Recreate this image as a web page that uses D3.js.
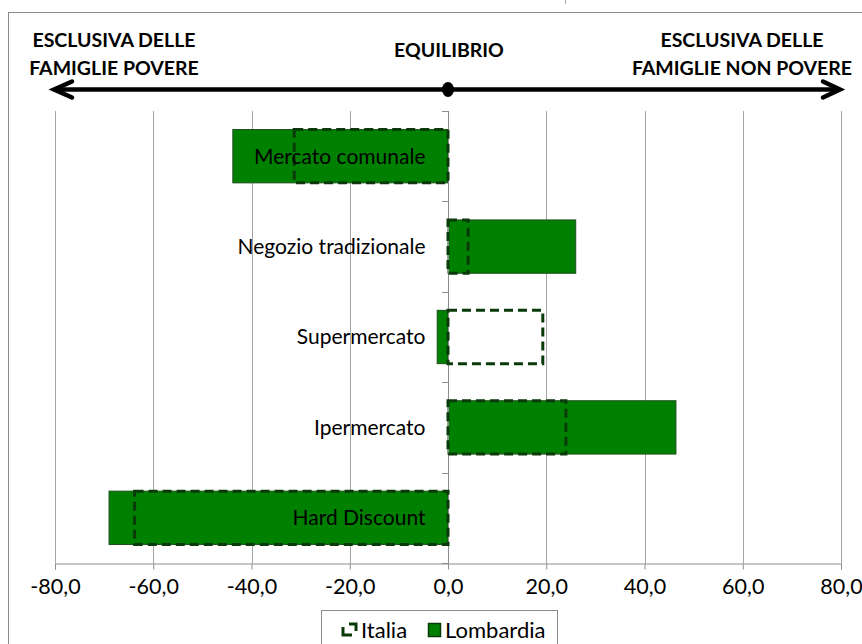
<!DOCTYPE html>
<html><head><meta charset="utf-8">
<script src="https://cdn.jsdelivr.net/npm/d3@7"></script>
<style>
html,body{margin:0;padding:0;background:#fff;}
svg{display:block;font-family:Lato, "Open Sans", sans-serif;}
</style></head>
<body>
<svg id="chart" width="862" height="644"></svg>
<script>
const categories = ["Mercato comunale","Negozio tradizionale","Supermercato","Ipermercato","Hard Discount"];
const italia = [-31.3, 4.1, 19.3, 24.0, -63.8];
const lombardia = [-43.8, 26.0, -2.2, 46.4, -69.0];
const xTicks = [-80,-60,-40,-20,0,20,40,60,80];
const seriesNames = ["Italia","Lombardia"];
const headerLeft = ["ESCLUSIVA DELLE","FAMIGLIE POVERE"];
const headerCenter = "EQUILIBRIO";
const headerRight = ["ESCLUSIVA DELLE","FAMIGLIE NON POVERE"];

const svg = d3.select("#chart");
const L=55, R=841, T=111, B=563;
const x = d3.scaleLinear().domain([-80,80]).range([L,R]);
const y = d3.scaleBand().domain(categories).range([T,B]).paddingInner(0.41).paddingOuter(0.205);
const fmt = v => d3.format(".1f")(v).replace(".",",").replace("−","-");

// outer border
svg.append("rect").attr("x",8.5).attr("y",12.5).attr("width",880).attr("height",660)
  .attr("fill","none").attr("stroke","#8c8c8c").attr("stroke-width",1);
svg.append("line").attr("x1",565.5).attr("x2",565.5).attr("y1",0).attr("y2",4).attr("stroke","#aaa");

// gridlines
svg.append("g").selectAll("line").data(xTicks.filter(d=>d!==0)).join("line")
  .attr("x1",d=>Math.round(x(d))+0.5).attr("x2",d=>Math.round(x(d))+0.5)
  .attr("y1",T).attr("y2",B).attr("stroke","#a6a6a6").attr("stroke-width",1);

// x axis
const xAxis = svg.append("g").attr("transform",`translate(0,${B+0.5})`)
  .call(d3.axisBottom(x).tickValues(xTicks).tickSize(6).tickPadding(9).tickFormat(fmt));
xAxis.select(".domain").attr("stroke","#8c8c8c");
xAxis.selectAll(".tick line").attr("stroke","#8c8c8c");
xAxis.selectAll("text").attr("font-size",21.5).attr("fill","#000").attr("font-family","Lato");

// bars Lombardia
svg.append("g").selectAll("rect").data(lombardia).join("rect")
  .attr("x",(d)=>x(Math.min(0,d))).attr("width",d=>Math.abs(x(d)-x(0)))
  .attr("y",(d,i)=>y(categories[i])).attr("height",y.bandwidth())
  .attr("fill","#008000").attr("stroke","#1f4f1f").attr("stroke-width",1);

// y axis (zero line)
const yTicksPos = d3.range(categories.length+1).map(i=>T+i*y.step());
svg.append("line").attr("x1",x(0)+0.5).attr("x2",x(0)+0.5).attr("y1",T).attr("y2",B)
  .attr("stroke","#8c8c8c");
svg.append("g").selectAll("line").data(yTicksPos).join("line")
  .attr("x1",x(0)-6).attr("x2",x(0)).attr("y1",d=>Math.round(d)+0.5).attr("y2",d=>Math.round(d)+0.5)
  .attr("stroke","#8c8c8c");

// Italia dashed
svg.append("g").selectAll("rect").data(italia).join("rect")
  .attr("x",(d)=>x(Math.min(0,d))).attr("width",d=>Math.abs(x(d)-x(0)))
  .attr("y",(d,i)=>y(categories[i])).attr("height",y.bandwidth())
  .attr("fill","none").attr("stroke","#0a3a0a").attr("stroke-width",3).attr("stroke-dasharray","9,5");

// category labels
svg.append("g").selectAll("text").data(categories).join("text")
  .attr("x",x(0)-22.5).attr("y",d=>y(d)+y.bandwidth()/2).attr("dy","0.35em")
  .attr("text-anchor","end").attr("font-size",21).attr("fill","#000").text(d=>d);

// header
const hdr = svg.append("g").attr("font-weight","bold").attr("font-size",19.5).attr("fill","#000").attr("text-anchor","middle");
hdr.selectAll(".hl").data(headerLeft).join("text").attr("x",114).attr("y",(d,i)=>47+i*28).text(d=>d);
hdr.append("text").attr("x",x(0)+1).attr("y",57).text(headerCenter);
hdr.selectAll(".hr").data(headerRight).join("text").attr("x",742).attr("y",(d,i)=>47+i*28).text(d=>d);

// arrow
const ay=89.5;
svg.append("line").attr("x1",x(-80)).attr("x2",x(80)-2).attr("y1",ay).attr("y2",ay)
  .attr("stroke","#000").attr("stroke-width",4.5);
svg.append("path").attr("d",`M${x(-80)+17},${ay-8} L${x(-80)-1},${ay} L${x(-80)+17},${ay+8}`)
  .attr("fill","none").attr("stroke","#000").attr("stroke-width",4.5).attr("stroke-linejoin","miter").attr("stroke-linecap","round");
svg.append("path").attr("d",`M${x(80)-18},${ay-8} L${x(80)-1},${ay} L${x(80)-18},${ay+8}`)
  .attr("fill","none").attr("stroke","#000").attr("stroke-width",4.5).attr("stroke-linejoin","miter").attr("stroke-linecap","round");
svg.append("ellipse").attr("cx",x(0)).attr("cy",ay).attr("rx",6).attr("ry",7.5).attr("fill","#000");

// legend
const lg = svg.append("g");
lg.append("rect").attr("x",321.5).attr("y",610.5).attr("width",236).attr("height",50)
  .attr("fill","#fff").attr("stroke","#8c8c8c");
lg.append("path").attr("d","M343,627 L343,635 L352,635 M349,624 L356,624 L356,631")
  .attr("fill","none").attr("stroke","#0a3a0a").attr("stroke-width",3);
lg.append("text").attr("x",361).attr("y",630).attr("dy","0.35em").attr("font-size",22).text(seriesNames[0]);
lg.append("rect").attr("x",428.5).attr("y",623.5).attr("width",12).attr("height",13)
  .attr("fill","#008000").attr("stroke","#0a3a0a").attr("stroke-width",1.5);
lg.append("text").attr("x",445).attr("y",630).attr("dy","0.35em").attr("font-size",22).text(seriesNames[1]);
</script>
</body></html>
